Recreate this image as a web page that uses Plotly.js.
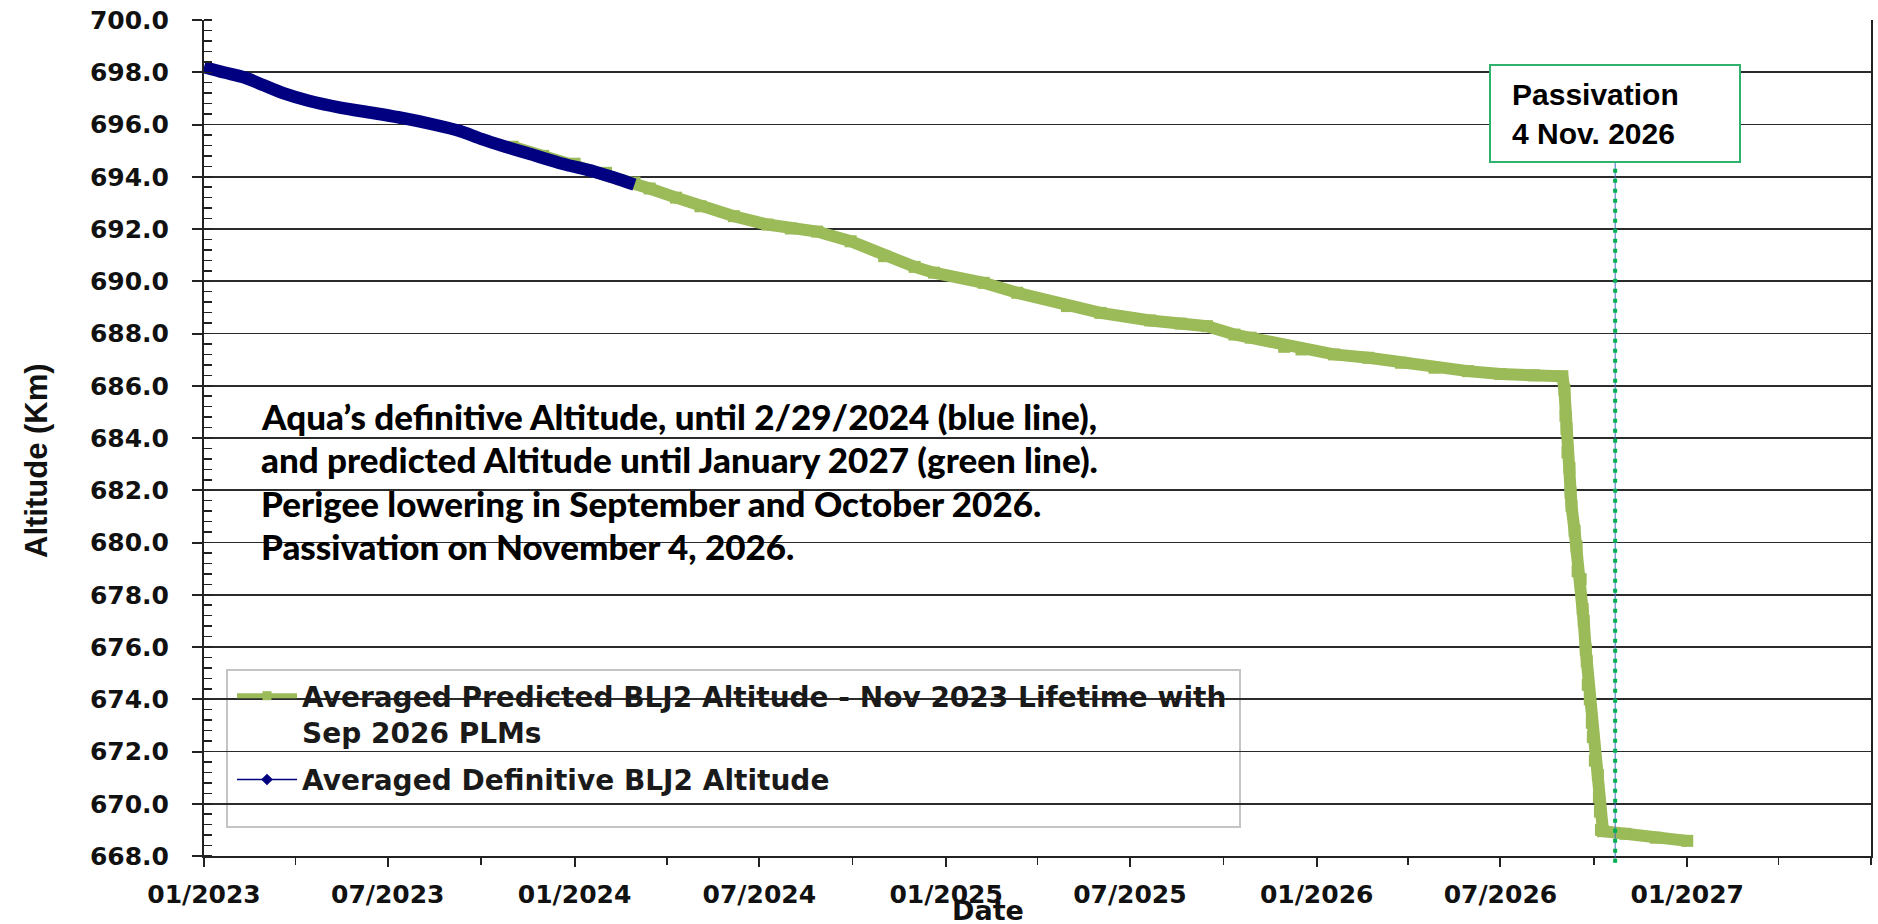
<!DOCTYPE html>
<html>
<head>
<meta charset="utf-8">
<script src="https://cdn.plot.ly/plotly-3.0.1.min.js"></script>
<style>html,body{margin:0;padding:0;background:#fff;}#chart{width:1878px;height:924px;}</style>
</head>
<body>
<div id="chart"></div>
<script>
// ---- data ----
const definitiveDates = ['2023-01-01','2023-01-20','2023-02-10','2023-03-01','2023-03-20','2023-04-15','2023-05-15','2023-06-15','2023-07-15','2023-08-15','2023-09-10','2023-10-01','2023-10-25','2023-11-20','2023-12-20','2024-01-20','2024-02-10','2024-02-29'];
const definitiveAlt = [698.2,698.0,697.8,697.5,697.2,696.9,696.65,696.45,696.25,696.0,695.75,695.45,695.15,694.85,694.5,694.2,693.95,693.7];

const predictedDates = ['2023-11-01','2023-12-01','2024-01-01','2024-02-01','2024-02-29','2024-03-15','2024-04-10','2024-05-04','2024-06-06','2024-07-09','2024-08-01','2024-08-27','2024-09-29','2024-11-01','2024-12-01','2024-12-20','2025-02-07','2025-03-12','2025-04-30','2025-06-02','2025-07-21','2025-08-20','2025-09-15','2025-10-12','2025-10-28','2025-11-30','2025-12-17','2026-01-18','2026-02-21','2026-03-25','2026-04-27','2026-05-30','2026-07-01','2026-08-03','2026-08-31',
  '2026-09-02','2026-09-03','2026-09-04','2026-09-05','2026-09-07','2026-09-08','2026-09-09','2026-09-12','2026-09-14','2026-09-15','2026-09-18','2026-09-20','2026-09-21','2026-09-23','2026-09-24','2026-09-25','2026-09-27','2026-09-29','2026-09-30','2026-10-02','2026-10-05','2026-10-06','2026-10-07','2026-10-08',
  '2026-10-10','2026-11-01','2026-12-01','2027-01-01'];
const predictedAlt = [695.15,694.8,694.5,694.15,693.78,693.55,693.2,692.87,692.49,692.17,692.02,691.9,691.53,690.96,690.55,690.33,689.94,689.56,689.05,688.79,688.5,688.38,688.28,687.96,687.84,687.49,687.39,687.2,687.07,686.88,686.69,686.56,686.45,686.4,686.36,
  685.85,684.85,684.35,683.45,682.85,681.9,681.4,680.45,679.85,678.9,678.6,677.45,677.0,675.9,675.45,674.55,674.0,673.1,672.55,671.65,671.1,670.25,669.7,669.0,
  668.95,668.85,668.7,668.58];

const passivationDate = '2026-10-22';
const xTickVals = ['2023-01-01','2023-07-01','2024-01-01','2024-07-01','2025-01-01','2025-07-01','2026-01-01','2026-07-01','2027-01-01'];
const xTickText = ['01/2023','07/2023','01/2024','07/2024','01/2025','07/2025','01/2026','07/2026','01/2027'];
const predictedName = 'Averaged Predicted BLJ2 Altitude - Nov 2023 Lifetime with<br>Sep 2026 PLMs';
const definitiveName = 'Averaged Definitive BLJ2 Altitude';
const noteLines = ['Aqua\u2019s definitive Altitude, until 2/29/2024 (blue line),',
  'and predicted Altitude until January 2027 (green line).',
  'Perigee lowering in September and October 2026.',
  'Passivation on November 4, 2026.'];
const passivationText = 'Passivation<br>4 Nov. 2026';

// ---- styles ----
const GREEN = '#9bbb59';
const NAVY = '#000080';
const wideBold = {family: 'DejaVu Sans', size: 25, color: '#111', weight: 'bold'};

const traces = [
  {x: predictedDates, y: predictedAlt, type: 'scatter', mode: 'lines+markers', showlegend: false, legendgroup: 'p',
   line: {color: GREEN, width: 12}, marker: {symbol: 'square', size: 12, color: GREEN}, hoverinfo: 'skip'},
  {x: definitiveDates, y: definitiveAlt, type: 'scatter', mode: 'lines', showlegend: false, legendgroup: 'd',
   line: {color: NAVY, width: 12.5, shape: 'spline', smoothing: 0.6}, hoverinfo: 'skip'},
  {x: [null], y: [null], type: 'scatter', mode: 'lines+markers', name: predictedName, legendgroup: 'p',
   line: {color: GREEN, width: 5}, marker: {symbol: 'square', size: 9, color: GREEN}},
  {x: [null], y: [null], type: 'scatter', mode: 'lines+markers', name: definitiveName, legendgroup: 'd',
   line: {color: NAVY, width: 1.5}, marker: {symbol: 'diamond', size: 9, color: NAVY}}
];

const px = v => (v - 204) / 1667;
const py = v => (856 - v) / 836;

const annotations = noteLines.map((t, i) => ({
  text: t, xref: 'paper', yref: 'paper', x: px(259), y: py([416, 459, 503, 546][i]),
  xanchor: 'left', yanchor: 'middle', showarrow: false,
  font: {family: 'Lato', size: 35, color: '#000', weight: 900}
}));
annotations.push({text: passivationText, xref: 'paper', yref: 'paper', x: px(1510), y: py(114),
  xanchor: 'left', yanchor: 'middle', align: 'left', showarrow: false,
  font: {family: 'Liberation Sans', size: 30, color: '#000', weight: 'bold'}});
annotations.push({text: 'Altitude (Km)', xref: 'paper', yref: 'paper', x: px(36), y: py(461),
  xanchor: 'center', yanchor: 'middle', textangle: -90, showarrow: false,
  font: {family: 'Liberation Sans', size: 31, color: '#111', weight: 'bold'}});
annotations.push({text: 'Date', xref: 'paper', yref: 'paper', x: px(988), y: py(910),
  xanchor: 'center', yanchor: 'middle', showarrow: false,
  font: {family: 'DejaVu Sans', size: 27, color: '#111', weight: 'bold'}});

const shapes = [
  {type: 'rect', xref: 'paper', yref: 'y', x0: 0.002, x1: px(1147), y0: 678.6, y1: 686.5,
   fillcolor: '#fff', line: {width: 0}, layer: 'between'},
  {type: 'rect', xref: 'paper', yref: 'paper', x0: px(227), x1: px(1240), y0: py(827), y1: py(670),
   fillcolor: '#fff', line: {color: '#c4c4c4', width: 2}, layer: 'between'},
  {type: 'line', xref: 'x', yref: 'paper', x0: passivationDate, x1: passivationDate, y0: -0.008, y1: py(162),
   line: {color: '#3f6fc0', width: 1}, layer: 'above'},
  {type: 'line', xref: 'x', yref: 'paper', x0: passivationDate, x1: passivationDate, y0: -0.008, y1: py(162),
   line: {color: '#00b050', width: 4, dash: '4px,6px'}, layer: 'above'},
  {type: 'rect', xref: 'paper', yref: 'paper', x0: px(1490), x1: px(1740), y0: py(162), y1: py(65),
   fillcolor: '#fff', line: {color: '#2fb36c', width: 2}, layer: 'above'}
];

const layout = {
  width: 1878, height: 924,
  margin: {l: 204, r: 7, t: 20, b: 68},
  paper_bgcolor: '#fff', plot_bgcolor: '#fff',
  showlegend: true,
  legend: {x: px(232), y: py(671), xanchor: 'left', yanchor: 'top', valign: 'top',
    bgcolor: 'rgba(0,0,0,0)', borderwidth: 0, tracegroupgap: 8, itemwidth: 60,
    font: {family: 'DejaVu Sans', size: 28, color: '#1a1a1a', weight: 'bold'}},
  xaxis: {type: 'date', range: ['2023-01-01', '2027-07-01'],
    tickmode: 'array', tickvals: xTickVals, ticktext: xTickText,
    ticks: 'outside', ticklen: 9, tickwidth: 2, tickcolor: '#222',
    minor: {dtick: 'M3', tick0: '2023-01-01', ticks: 'outside', ticklen: 7, tickwidth: 1.5, tickcolor: '#222', showgrid: false},
    showgrid: false, zeroline: false,
    showline: true, linecolor: '#222', linewidth: 2,
    ticklabelstandoff: 6, tickfont: wideBold},
  yaxis: {range: [668, 700], dtick: 2, tick0: 668, tickformat: '.1f',
    ticks: 'outside', ticklen: 10, tickwidth: 2, tickcolor: '#222',
    minor: {dtick: 0.4, tick0: 668, ticks: 'inside', ticklen: 8, tickwidth: 1.5, tickcolor: '#222', showgrid: false},
    showgrid: true, gridcolor: '#2b2b2b', gridwidth: 1.6, zeroline: false,
    showline: true, linecolor: '#222', linewidth: 2, mirror: true,
    ticklabelstandoff: 18, tickfont: wideBold},
  annotations: annotations,
  shapes: shapes
};

Plotly.newPlot('chart', traces, layout, {displayModeBar: false, staticPlot: true});
</script>
</body>
</html>
